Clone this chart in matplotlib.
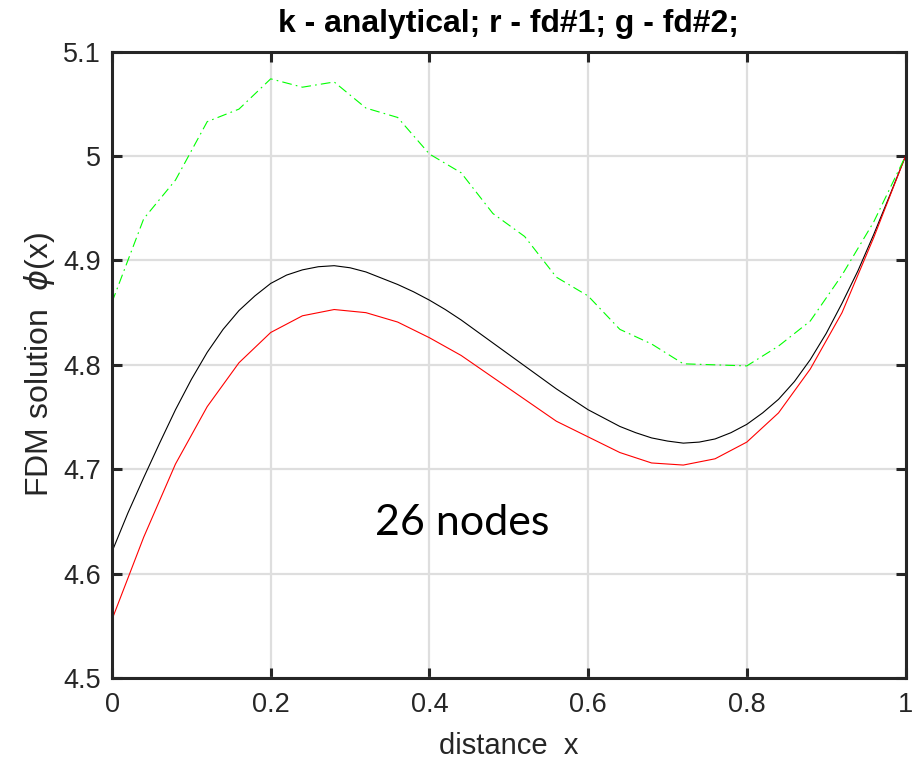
import matplotlib
matplotlib.use("Agg")
import matplotlib.pyplot as plt

# ---------------- data ----------------
x_nodes = [0.00, 0.04, 0.08, 0.12, 0.16, 0.20, 0.24, 0.28, 0.32, 0.36, 0.40, 0.44, 0.48,
           0.52, 0.56, 0.60, 0.64, 0.68, 0.72, 0.76, 0.80, 0.84, 0.88, 0.92, 0.96, 1.00]
phi_fd1 = [4.556, 4.635, 4.705, 4.760, 4.802, 4.831, 4.847, 4.853, 4.850, 4.841, 4.826,
           4.809, 4.788, 4.767, 4.746, 4.731, 4.716, 4.706, 4.704, 4.710, 4.726, 4.754,
           4.796, 4.850, 4.922, 5.000]
phi_fd2 = [4.860, 4.940, 4.977, 5.033, 5.045, 5.074, 5.066, 5.071, 5.046, 5.037, 5.002,
           4.984, 4.945, 4.923, 4.884, 4.866, 4.834, 4.820, 4.801, 4.800, 4.799, 4.818,
           4.842, 4.886, 4.937, 5.000]
x_exact = [0.00, 0.02, 0.04, 0.06, 0.08, 0.10, 0.12, 0.14, 0.16, 0.18, 0.20, 0.22, 0.24,
           0.26, 0.28, 0.30, 0.32, 0.34, 0.36, 0.38, 0.40, 0.42, 0.44, 0.46, 0.48, 0.50,
           0.52, 0.54, 0.56, 0.58, 0.60, 0.62, 0.64, 0.66, 0.68, 0.70, 0.72, 0.74, 0.76,
           0.78, 0.80, 0.82, 0.84, 0.86, 0.88, 0.90, 0.92, 0.94, 0.96, 0.98, 1.00]
phi_exact = [4.621, 4.658, 4.692, 4.725, 4.757, 4.786, 4.812, 4.834, 4.852, 4.866, 4.878,
             4.886, 4.891, 4.894, 4.895, 4.893, 4.889, 4.883, 4.877, 4.870, 4.862, 4.853,
             4.843, 4.832, 4.821, 4.810, 4.799, 4.788, 4.777, 4.767, 4.757, 4.749, 4.741,
             4.735, 4.730, 4.727, 4.725, 4.726, 4.729, 4.735, 4.743, 4.754, 4.767, 4.784,
             4.805, 4.830, 4.859, 4.890, 4.925, 4.962, 5.000]

x_ticks = [0, 0.2, 0.4, 0.6, 0.8, 1]
x_ticklabels = ["0", "0.2", "0.4", "0.6", "0.8", "1"]
y_ticks = [4.5, 4.6, 4.7, 4.8, 4.9, 5.0, 5.1]
y_ticklabels = ["4.5", "4.6", "4.7", "4.8", "4.9", "5", "5.1"]

title_text = "k - analytical; r - fd#1; g - fd#2;"
xlabel_text = "distance  x"
ylabel_text = r"FDM solution  $\phi$(x)"
note_text = "26 nodes"

# ---------------- style ----------------
plt.rcParams["font.family"] = ["Liberation Sans", "DejaVu Sans"]
plt.rcParams["lines.scale_dashes"] = False
axis_col = "#262626"

fig = plt.figure(figsize=(9.21, 7.63), dpi=100, facecolor="white")
ax = fig.add_axes([112 / 921, 1 - 678 / 763, (905.5 - 112) / 921, (678 - 51.7) / 763])

ax.plot(x_exact, phi_exact, color="black", lw=0.8, zorder=3)
ax.plot(x_nodes, phi_fd1, color="#ff0000", lw=0.8, zorder=3)
ax.plot(x_nodes, phi_fd2, color="#00ff00", lw=0.8, zorder=3,
        linestyle=(0, (7, 3, 1.2, 3)))

ax.set_xlim(0, 1)
ax.set_ylim(4.5, 5.1)
ax.set_xticks(x_ticks)
ax.set_xticklabels(x_ticklabels)
ax.set_yticks(y_ticks)
ax.set_yticklabels(y_ticklabels)

ax.grid(True, color="#dedede", lw=1.6, zorder=0)
ax.set_axisbelow(True)
for s in ax.spines.values():
    s.set_color(axis_col)
    s.set_linewidth(2.2)
    s.set_zorder(5)

ax.tick_params(axis="both", which="major", direction="in", length=7, width=2.2,
               color=axis_col, labelsize=19.5, labelcolor="#262626",
               top=True, right=True)
ax.tick_params(axis="x", pad=10)
ax.tick_params(axis="y", pad=8)

ax.set_title(title_text, fontsize=23, fontweight="bold", pad=14)
ax.set_xlabel(xlabel_text, fontsize=21, color="#262626", labelpad=10)
ax.set_ylabel(ylabel_text, fontsize=23, color="#262626", labelpad=4)

ax.text(0.3315, 4.637, note_text, fontsize=31, family=["Lato", "DejaVu Sans"],
        ha="left", va="baseline", color="black", zorder=6)

fig.savefig("out.png", dpi=100, facecolor="white")
